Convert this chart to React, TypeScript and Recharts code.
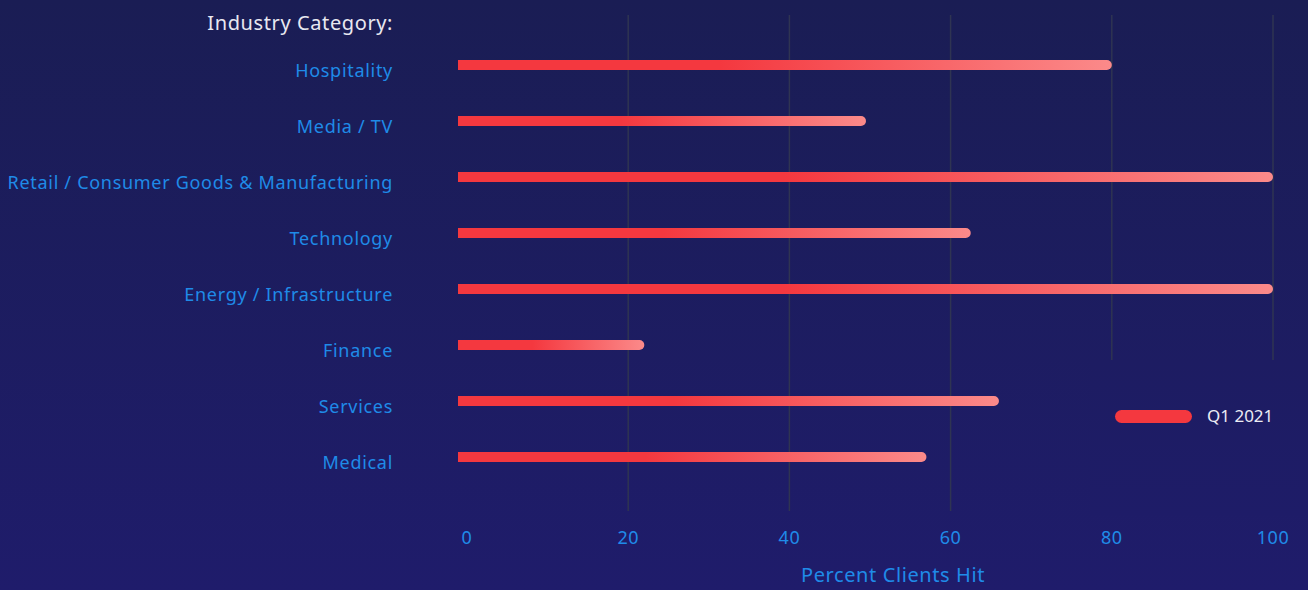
import React from 'react';
import { BarChart, Bar, XAxis, YAxis, CartesianGrid, Legend, Customized } from 'recharts';

const categories = [
  'Hospitality',
  'Media / TV',
  'Retail / Consumer Goods & Manufacturing',
  'Technology',
  'Energy / Infrastructure',
  'Finance',
  'Services',
  'Medical',
];
const q1_2021 = [80, 49.5, 100, 62.5, 100, 22, 66, 57];
const xTicks = [0, 20, 40, 60, 80, 100];
const gridTicks = [20, 40, 60, 80, 100];
const seriesName = 'Q1 2021';

const data = categories.map((c, i) => ({ category: c, value: q1_2021[i] }));

const FONT = '"Noto Sans", sans-serif';
const BLUE = '#1f8be8';

const BarShape = (props: any) => {
  const { x, y, width, height } = props;
  const ext = 9;
  const r = height / 2;
  const x0 = x - ext;
  const x1 = x + width;
  const d = `M${x0},${y} L${x1 - r},${y} A${r},${r} 0 0 1 ${x1 - r},${y + height} L${x0},${y + height} Z`;
  return <path d={d} fill="url(#barGrad)" />;
};

const LegendContent = () => (
  <div style={{ position: 'relative', width: '100%', height: '100%' }}>
    <div
      style={{
        position: 'absolute',
        left: 25,
        top: 50,
        width: 77,
        height: 13,
        borderRadius: 7,
        background: '#f4383f',
      }}
    />
    <div
      style={{
        position: 'absolute',
        left: 117,
        top: 45,
        fontFamily: FONT,
        fontSize: 17,
        lineHeight: '22px',
        color: '#ececf4',
      }}
    >
      {seriesName}
    </div>
  </div>
);

const Title = () => (
  <text
    x={393}
    y={22}
    textAnchor="end"
    dominantBaseline="central"
    fontFamily={FONT}
    fontSize={20}
    letterSpacing={0.6}
    fill="#e8e8f0"
  >
    Industry Category:
  </text>
);

const gridGen = (args: any) => {
  const scale = args?.xAxis?.scale;
  if (scale && typeof scale === 'function') return gridTicks.map((t) => scale(t));
  if (scale && typeof scale.map === 'function') return gridTicks.map((t) => scale.map(t));
  const left = args.offset.left;
  const w = args.offset.width;
  return gridTicks.map((t) => left + (t / 100) * w);
};

export default function App() {
  return (
    <div
      style={{
        position: 'absolute',
        left: 0,
        top: 0,
        width: 1308,
        height: 590,
        background: 'linear-gradient(180deg, #1a1d54 0%, #1f1c6b 100%)',
      }}
    >
      <BarChart
        width={1308}
        height={590}
        data={data}
        layout="vertical"
        margin={{ top: 15, right: 35, left: 0, bottom: 0 }}
        barSize={10}
      >
        <defs>
          <linearGradient id="barGrad" x1="0" y1="0" x2="1" y2="0">
            <stop offset="0%" stopColor="#f4383f" />
            <stop offset="40%" stopColor="#f4383f" />
            <stop offset="100%" stopColor="#fb8a8a" />
          </linearGradient>
        </defs>
        <CartesianGrid
          horizontal={false}
          vertical={true}
          verticalCoordinatesGenerator={gridGen}
          stroke="#2f3452"
          strokeWidth={1.5}
        />
        <XAxis
          type="number"
          domain={[0, 100]}
          ticks={xTicks}
          height={79}
          axisLine={false}
          tickLine={false}
          tickSize={0}
          tickMargin={20}
          tick={{ fill: BLUE, fontSize: 18, fontFamily: FONT, letterSpacing: 0.5 }}
          label={{
            value: 'Percent Clients Hit',
            position: 'insideBottom',
            offset: 8,
            dx: 23,
            fill: BLUE,
            fontSize: 20,
            fontFamily: FONT,
            letterSpacing: 0.6,
          }}
        />
        <YAxis
          type="category"
          dataKey="category"
          width={467}
          axisLine={false}
          tickLine={false}
          tickSize={0}
          tickMargin={74}
          padding={{ top: 22, bottom: 26 }}
          interval={0}
          tick={{ fill: BLUE, fontSize: 18, fontFamily: FONT, letterSpacing: 0.7, dy: 6 }}
        />
        <Legend
          layout="horizontal"
          verticalAlign="middle"
          align="center"
          content={<LegendContent />}
          wrapperStyle={{
            position: 'absolute',
            left: 1090,
            top: 360,
            width: 218,
            height: 155,
            background: 'linear-gradient(180deg, #1d1c62 0%, #1e1c68 100%)',
          }}
        />
        <Bar dataKey="value" name={seriesName} shape={<BarShape />} isAnimationActive={false} />
        <Customized component={Title} />
      </BarChart>
    </div>
  );
}
